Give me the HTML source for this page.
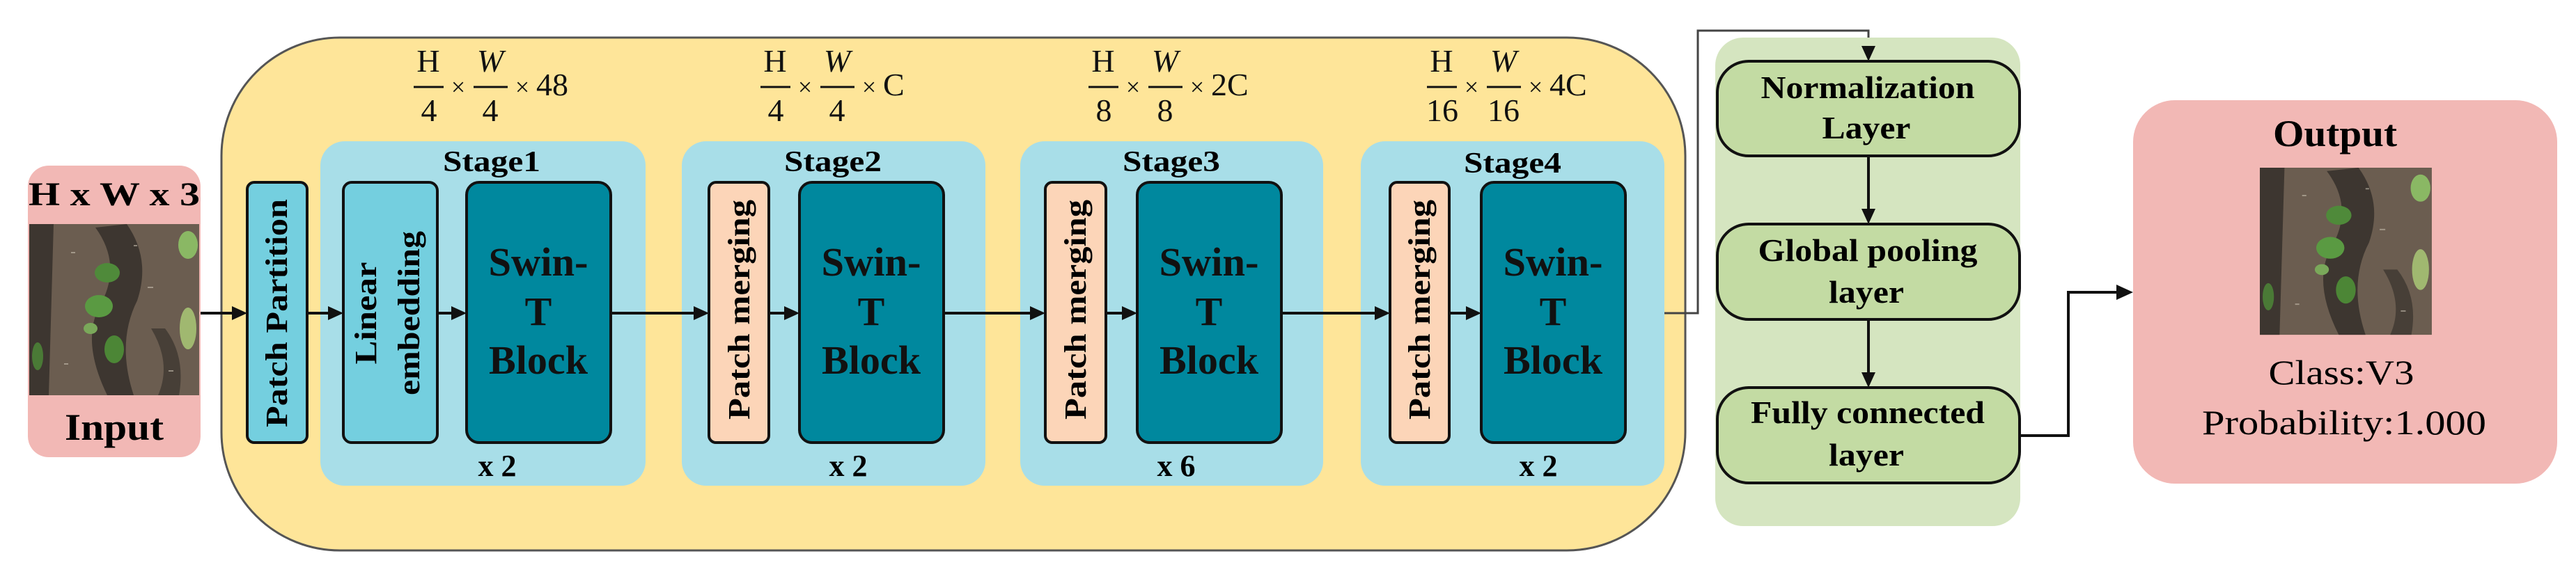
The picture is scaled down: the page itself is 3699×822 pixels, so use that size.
<!DOCTYPE html>
<html><head><meta charset="utf-8"><style>html,body{margin:0;padding:0;background:#fff}svg{display:block}svg text{font-family:"Liberation Serif","Times New Roman",serif}</style></head>
<body>
<svg xmlns="http://www.w3.org/2000/svg" width="3699" height="822" viewBox="0 0 3699 822">
<defs>
<g id="photo">
<rect x="0" y="0" width="244" height="246" fill="#6b5d50"/>
<path d="M0 0 L35 0 L28 246 L0 246Z" fill="#2e2a26" opacity="0.75"/>
<path d="M95 5 Q135 60 100 120 Q75 170 112 246 L150 246 Q125 170 155 110 Q175 50 140 0Z" fill="#2a2622" opacity="0.7"/>
<path d="M175 150 Q205 200 185 246 L215 246 Q225 190 195 150Z" fill="#2a2622" opacity="0.55"/>
<ellipse cx="112" cy="70" rx="18" ry="14" fill="#4f8a3a"/>
<ellipse cx="100" cy="118" rx="20" ry="16" fill="#5a9a42"/>
<ellipse cx="122" cy="180" rx="14" ry="20" fill="#4c8636"/>
<ellipse cx="88" cy="150" rx="10" ry="8" fill="#7aa85a"/>
<ellipse cx="228" cy="30" rx="14" ry="20" fill="#8ab864"/>
<ellipse cx="228" cy="150" rx="12" ry="30" fill="#a0b870"/>
<ellipse cx="12" cy="190" rx="8" ry="20" fill="#4a7a36"/>
<g fill="#c8c0b0" opacity="0.6"><rect x="60" y="40" width="6" height="2"/><rect x="170" y="90" width="8" height="2"/><rect x="50" y="200" width="6" height="2"/><rect x="200" y="210" width="7" height="2"/><rect x="150" y="30" width="5" height="2"/></g>
</g>
</defs>

<!-- Input -->
<rect x="40" y="238" width="248" height="419" rx="30" fill="#F2B8B5"/>
<text x="164" y="295" font-size="48" font-weight="bold" text-anchor="middle" textLength="246" lengthAdjust="spacingAndGlyphs">H x W x 3</text>
<use href="#photo" x="42" y="322"/>
<text x="164" y="632" font-size="54" font-weight="bold" text-anchor="middle" textLength="142" lengthAdjust="spacingAndGlyphs">Input</text>

<rect x="318" y="54" width="2102" height="737" rx="170" fill="#FEE599" stroke="#555" stroke-width="3"/>

<g font-size="46" fill="#111">
<g id="f1">
<text x="615" y="103" text-anchor="middle">H</text>
<line x1="594" y1="125" x2="637" y2="125" stroke="#111" stroke-width="3"/>
<text x="658" y="137" text-anchor="middle" font-size="36">×</text>
<text x="704" y="103" text-anchor="middle" font-style="italic">W</text>
<line x1="680" y1="125" x2="729" y2="125" stroke="#111" stroke-width="3"/>
<text x="750" y="137" text-anchor="middle" font-size="36">×</text>
</g>
<text x="616" y="174" text-anchor="middle">4</text><text x="704" y="174" text-anchor="middle">4</text>
<text x="770" y="137">48</text>
<use href="#f1" x="498"/>
<text x="1114" y="174" text-anchor="middle">4</text><text x="1202" y="174" text-anchor="middle">4</text>
<text x="1268" y="137">C</text>
<use href="#f1" x="969"/>
<text x="1585" y="174" text-anchor="middle">8</text><text x="1673" y="174" text-anchor="middle">8</text>
<text x="1739" y="137">2C</text>
<use href="#f1" x="1455"/>
<text x="2071" y="174" text-anchor="middle">16</text><text x="2159" y="174" text-anchor="middle">16</text>
<text x="2225" y="137">4C</text>
</g>

<rect x="355" y="262" width="86" height="374" rx="10" fill="#74CFDF" stroke="#111" stroke-width="4"/>
<text transform="translate(412,450) rotate(-90)" font-size="44" font-weight="bold" text-anchor="middle" textLength="328" lengthAdjust="spacingAndGlyphs">Patch Partition</text>

<rect x="460" y="203" width="467" height="495" rx="35" fill="#A8DEE8"/>
<rect x="979" y="203" width="436" height="495" rx="35" fill="#A8DEE8"/>
<rect x="1465" y="203" width="435" height="495" rx="35" fill="#A8DEE8"/>
<rect x="1954" y="203" width="436" height="495" rx="35" fill="#A8DEE8"/>

<g font-weight="bold" font-size="42" text-anchor="middle">
<text x="706" y="246" textLength="140" lengthAdjust="spacingAndGlyphs">Stage1</text>
<text x="1196" y="246" textLength="140" lengthAdjust="spacingAndGlyphs">Stage2</text>
<text x="1682" y="246" textLength="140" lengthAdjust="spacingAndGlyphs">Stage3</text>
<text x="2172" y="248" textLength="140" lengthAdjust="spacingAndGlyphs">Stage4</text>
</g>
<g font-size="44" text-anchor="middle" font-weight="bold">
<text x="714" y="684">x 2</text>
<text x="1218" y="684">x 2</text>
<text x="1689" y="684">x 6</text>
<text x="2209" y="684">x 2</text>
</g>

<rect x="493" y="262" width="135" height="374" rx="12" fill="#74CFDF" stroke="#111" stroke-width="4"/>
<text transform="translate(540,450) rotate(-90)" font-size="44" font-weight="bold" text-anchor="middle" textLength="147" lengthAdjust="spacingAndGlyphs">Linear</text>
<text transform="translate(602,450) rotate(-90)" font-size="44" font-weight="bold" text-anchor="middle" textLength="236" lengthAdjust="spacingAndGlyphs">embedding</text>

<g font-size="44" font-weight="bold" text-anchor="middle">
<rect x="1018" y="262" width="86" height="374" rx="10" fill="#FCD5B8" stroke="#111" stroke-width="4"/>
<text transform="translate(1076,445) rotate(-90)" textLength="316" lengthAdjust="spacingAndGlyphs">Patch merging</text>
<rect x="1501" y="262" width="87" height="374" rx="10" fill="#FCD5B8" stroke="#111" stroke-width="4"/>
<text transform="translate(1559,445) rotate(-90)" textLength="316" lengthAdjust="spacingAndGlyphs">Patch merging</text>
<rect x="1996" y="262" width="85" height="374" rx="10" fill="#FCD5B8" stroke="#111" stroke-width="4"/>
<text transform="translate(2053,445) rotate(-90)" textLength="316" lengthAdjust="spacingAndGlyphs">Patch merging</text>
</g>

<g font-size="58" font-weight="bold" text-anchor="middle" fill="#111">
<g id="sw">
<rect x="670" y="262" width="207" height="374" rx="18" fill="#00889E" stroke="#111" stroke-width="4"/>
<text x="773" y="396" textLength="143" lengthAdjust="spacingAndGlyphs">Swin-</text>
<text x="773" y="467">T</text>
<text x="773" y="537" textLength="142" lengthAdjust="spacingAndGlyphs">Block</text>
</g>
<use href="#sw" x="478"/>
<use href="#sw" x="963"/>
<use href="#sw" x="1457"/>
</g>

<g stroke="#111" stroke-width="4" fill="none">
<line x1="288" y1="450" x2="336" y2="450"/>
<line x1="441" y1="450" x2="474" y2="450"/>
<line x1="628" y1="450" x2="651" y2="450"/>
<line x1="877" y1="450" x2="999" y2="450"/>
<line x1="1104" y1="450" x2="1129" y2="450"/>
<line x1="1355" y1="450" x2="1482" y2="450"/>
<line x1="1588" y1="450" x2="1614" y2="450"/>
<line x1="1840" y1="450" x2="1977" y2="450"/>
<line x1="2081" y1="450" x2="2108" y2="450"/>
</g>
<g fill="#111">
<path d="M355 450 l-22 -10 v20z"/>
<path d="M493 450 l-22 -10 v20z"/>
<path d="M670 450 l-22 -10 v20z"/>
<path d="M1018 450 l-22 -10 v20z"/>
<path d="M1148 450 l-22 -10 v20z"/>
<path d="M1501 450 l-22 -10 v20z"/>
<path d="M1633 450 l-22 -10 v20z"/>
<path d="M1996 450 l-22 -10 v20z"/>
<path d="M2127 450 l-22 -10 v20z"/>
</g>

<polyline points="2390,450 2438,450 2438,44 2683,44 2683,70" stroke="#444" stroke-width="3" fill="none"/>

<rect x="2463" y="54" width="438" height="702" rx="40" fill="#D5E5C0"/>
<path d="M2683 88 l-10 -22 h20z" fill="#111"/>
<g font-size="46" font-weight="bold" text-anchor="middle">
<rect x="2466" y="88" width="434" height="136" rx="45" fill="#C3DBA3" stroke="#111" stroke-width="4"/>
<text x="2682" y="141" textLength="307" lengthAdjust="spacingAndGlyphs">Normalization</text>
<text x="2680" y="199" textLength="127" lengthAdjust="spacingAndGlyphs">Layer</text>
<rect x="2466" y="322" width="434" height="137" rx="45" fill="#C3DBA3" stroke="#111" stroke-width="4"/>
<text x="2682" y="375" textLength="315" lengthAdjust="spacingAndGlyphs">Global pooling</text>
<text x="2680" y="435" textLength="108" lengthAdjust="spacingAndGlyphs">layer</text>
<rect x="2466" y="557" width="434" height="137" rx="45" fill="#C3DBA3" stroke="#111" stroke-width="4"/>
<text x="2682" y="608" textLength="336" lengthAdjust="spacingAndGlyphs">Fully connected</text>
<text x="2680" y="669" textLength="108" lengthAdjust="spacingAndGlyphs">layer</text>
</g>
<g stroke="#111" stroke-width="4">
<line x1="2683" y1="224" x2="2683" y2="302"/>
<line x1="2683" y1="459" x2="2683" y2="537"/>
</g>
<path d="M2683 322 l-10 -22 h20z M2683 557 l-10 -22 h20z" fill="#111"/>

<polyline points="2900,626 2970,626 2970,420 3043,420" stroke="#111" stroke-width="4" fill="none"/>
<path d="M3063 420 l-24 -11 v22z" fill="#111"/>

<rect x="3063" y="144" width="609" height="551" rx="60" fill="#F2B8B5"/>
<text x="3353" y="210" font-size="54" font-weight="bold" text-anchor="middle" textLength="178" lengthAdjust="spacingAndGlyphs">Output</text>
<use href="#photo" transform="translate(3245,241) scale(1.012,0.976)"/>
<text x="3362" y="552" font-size="50" text-anchor="middle" textLength="209" lengthAdjust="spacingAndGlyphs">Class:V3</text>
<text x="3366" y="624" font-size="50" text-anchor="middle" textLength="408" lengthAdjust="spacingAndGlyphs">Probability:1.000</text>
</svg>
</body></html>
